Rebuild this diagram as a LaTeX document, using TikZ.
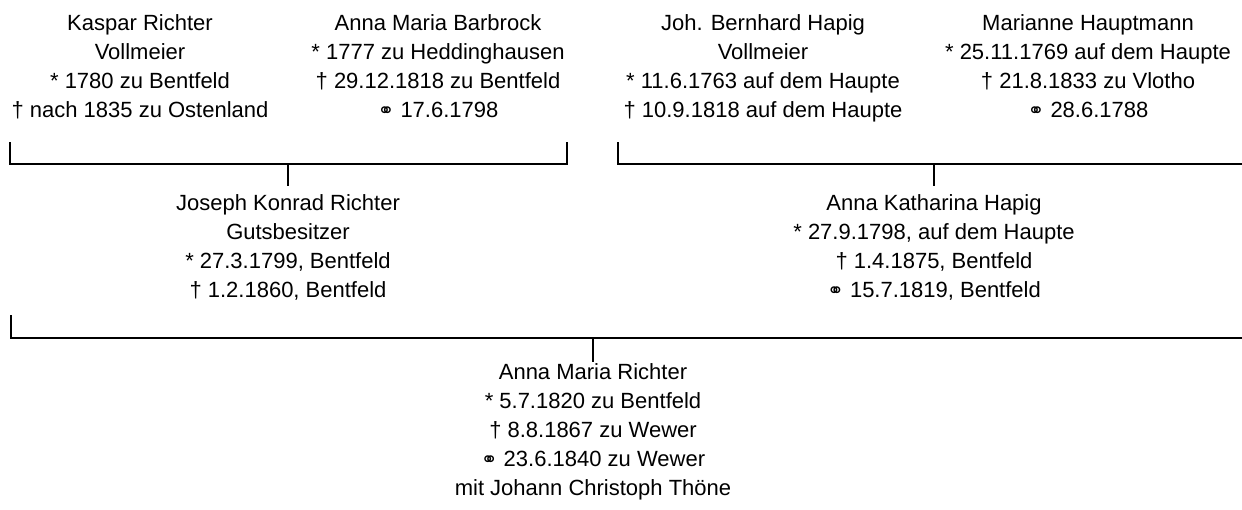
\documentclass[tikz,border=0pt]{standalone}
\usepackage{fontspec}
\setmainfont{Liberation Sans}
\newfontfamily\symfont{DejaVu Sans}
\newcommand\marr{{\symfont\fontsize{20}{20}\selectfont ⚭}}
\begin{document}
\begin{tikzpicture}[x=1pt, y=-1pt,
  person/.style={align=center, anchor=base, inner sep=0pt,
    font=\fontsize{22}{29}\selectfont},
  link/.style={line width=2.2pt, line cap=butt}]
\useasboundingbox (0,0) rectangle (1242,509);

% grandparents (anchored at the baseline of the last line)
\node[person] (kaspar) at (140,117) {Kaspar Richter\\Vollmeier\\* 1780 zu Bentfeld\\† nach 1835 zu Ostenland};
\node[person] (barbrock) at (438,117) {Anna Maria Barbrock\\* 1777 zu Heddinghausen\\† 29.12.1818 zu Bentfeld\\\marr\ 17.6.1798};
\node[person] (bernhard) at (763,117) {Joh. Bernhard Hapig\\Vollmeier\\* 11.6.1763 auf dem Haupte\\† 10.9.1818 auf dem Haupte};
\node[person] (marianne) at (1088,117) {Marianne Hauptmann\\* 25.11.1769 auf dem Haupte\\† 21.8.1833 zu Vlotho\\\marr\ 28.6.1788};

% parents
\node[person] (joseph) at (288,297) {Joseph Konrad Richter\\Gutsbesitzer\\* 27.3.1799, Bentfeld\\† 1.2.1860, Bentfeld};
\node[person] (katharina) at (934,297) {Anna Katharina Hapig\\* 27.9.1798, auf dem Haupte\\† 1.4.1875, Bentfeld\\\marr\ 15.7.1819, Bentfeld};

% child
\node[person] (annamaria) at (593,495) {Anna Maria Richter\\* 5.7.1820 zu Bentfeld\\† 8.8.1867 zu Wewer\\\marr\ 23.6.1840 zu Wewer\\mit Johann Christoph Thöne};

% bracket corners
\coordinate (rA1) at (10,142);   \coordinate (rA2) at (567,142);
\coordinate (rAm) at (288,164);  \coordinate (rAc) at (288,186);
\coordinate (rB1) at (618,142);  \coordinate (rB2) at (1250,142);
\coordinate (rBm) at (934,164);  \coordinate (rBc) at (934,186);
\coordinate (rC1) at (11,315);   \coordinate (rC2) at (1250,315);
\coordinate (rCm) at (593,338);  \coordinate (rCc) at (593,362);

% couple brackets and descent lines
\draw[link] (rA1) |- (rAm) -| (rA2);
\draw[link] (rAm) -- (rAc);
\draw[link] (rB1) |- (rBm) -| (rB2);
\draw[link] (rBm) -- (rBc);
\draw[link] (rC1) |- (rCm) -| (rC2);
\draw[link] (rCm) -- (rCc);
\end{tikzpicture}
\end{document}
